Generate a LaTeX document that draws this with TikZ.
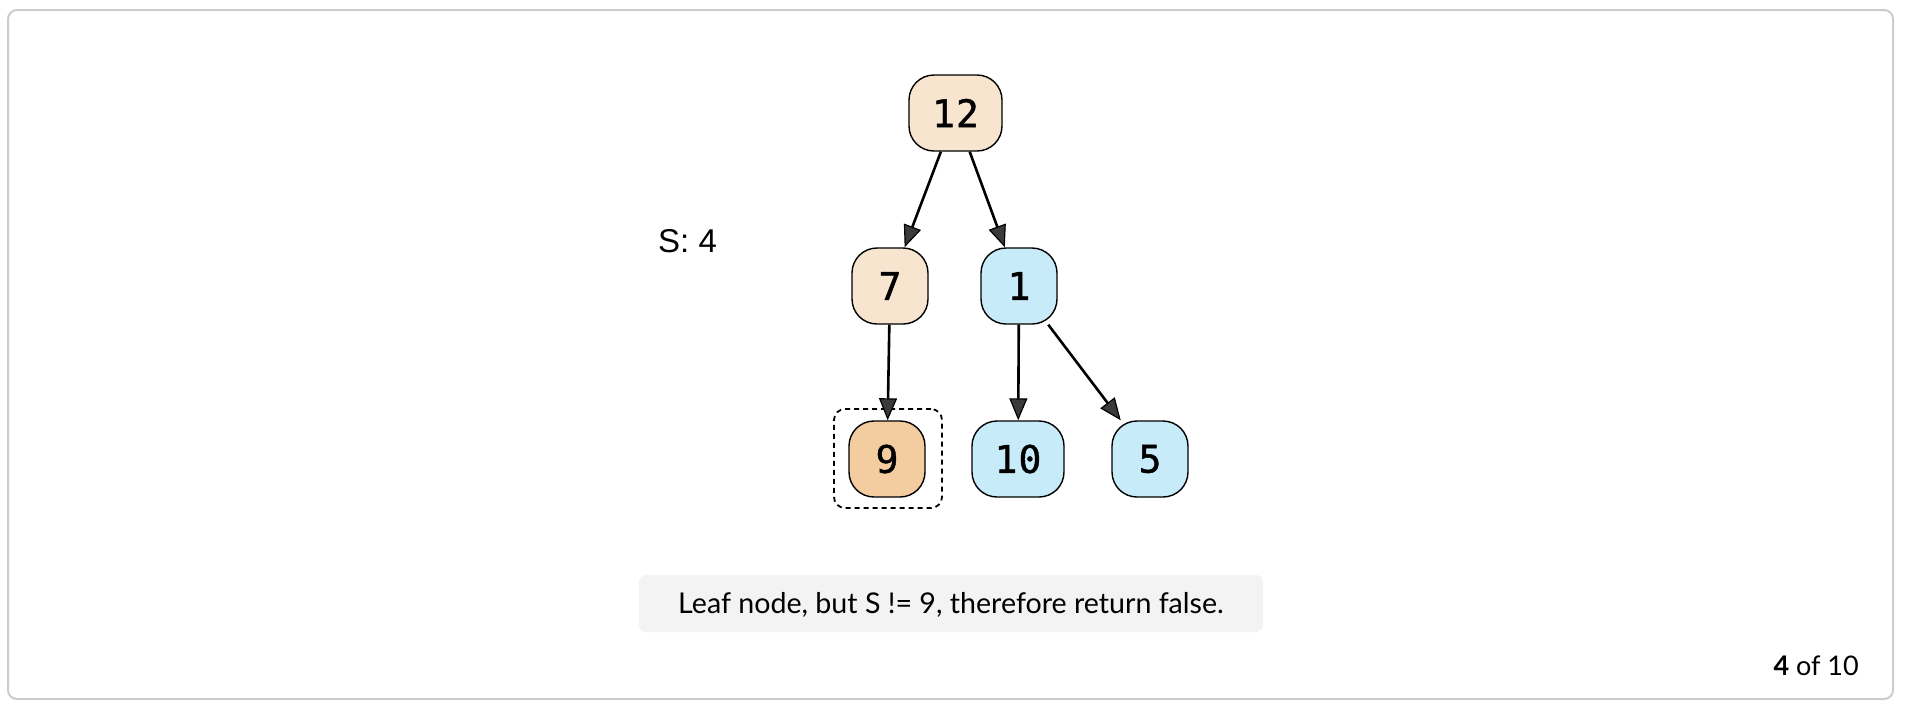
\documentclass[tikz,border=0pt]{standalone}
\usepackage{fontspec}
\setmainfont{Lato}
\newfontfamily\monofont[FakeBold=1.2]{DejaVu Sans Mono}
\newfontfamily\labelfont{Liberation Sans}
\usetikzlibrary{arrows.meta}
\definecolor{beige}{HTML}{F7E5D0}
\definecolor{orangeish}{HTML}{F3CDA0}
\definecolor{lightblue}{HTML}{C8EBF9}
\definecolor{framegray}{HTML}{CCCCCC}
\definecolor{capgray}{HTML}{F3F3F3}
\definecolor{arrowfill}{HTML}{3A3A3A}
\tikzset{
  treenode/.style={draw=black, line width=1.4pt, rounded corners=25pt,
    minimum width=76pt, minimum height=76pt, inner sep=0pt,
    font=\monofont\fontsize{38}{42}\selectfont},
  edge/.style={line width=2.6pt, draw=black,
    -{Triangle[length=22pt,width=18pt,fill=arrowfill,line width=1.2pt]}},
}
\begin{document}
\begin{tikzpicture}[x=1pt,y=-1pt]
\useasboundingbox (0,0) rectangle (1910,716);
% outer frame
\draw[framegray, line width=2pt, rounded corners=9pt] (8,10) rectangle (1893,699);
% tree nodes
\node[treenode, fill=beige, minimum width=93pt] (n12) at (955.5,113) {1\kern1pt2};
\node[treenode, fill=beige] (n7) at (890,286) {7};
\node[treenode, fill=lightblue] (n1) at (1019,286) {1};
\node[treenode, fill=orangeish] (n9) at (887,459) {9};
\node[treenode, fill=lightblue, minimum width=92pt] (n10) at (1018,459) {1\kern1pt0};
\node[treenode, fill=lightblue] (n5) at (1150,459) {5};
% highlight box
\node[draw=black, line width=1.8pt, dash pattern=on 5pt off 4pt, rounded corners=11pt,
  minimum width=108pt, minimum height=99pt, inner sep=0pt] (hl) at (888,458.5) {};
% edges
\draw[edge] (n12) -- (n7);
\draw[edge] (n12) -- (n1);
\draw[edge] (n7) -- (n9);
\draw[edge] (n1) -- (n10);
\draw[edge] (n1) -- (n5);
% S label
\node[anchor=base west, inner sep=0pt, font=\labelfont\fontsize{33}{36}\selectfont] (slabel) at (658,252) {S: 4};
% caption
\node[fill=capgray, rounded corners=7pt, minimum width=624pt, minimum height=57pt, inner sep=0pt] (capbox) at (951,603.5) {};
\node[anchor=base, inner sep=0pt, font=\fontsize{28.6}{31}\selectfont] (caption) at (951,613) {Leaf node, but S != 9, therefore return false.};
% page counter
\node[anchor=base east, inner sep=0pt, font=\fontsize{27}{30}\selectfont] (counter) at (1859,675) {\textbf{4} of 10};
\end{tikzpicture}
\end{document}
